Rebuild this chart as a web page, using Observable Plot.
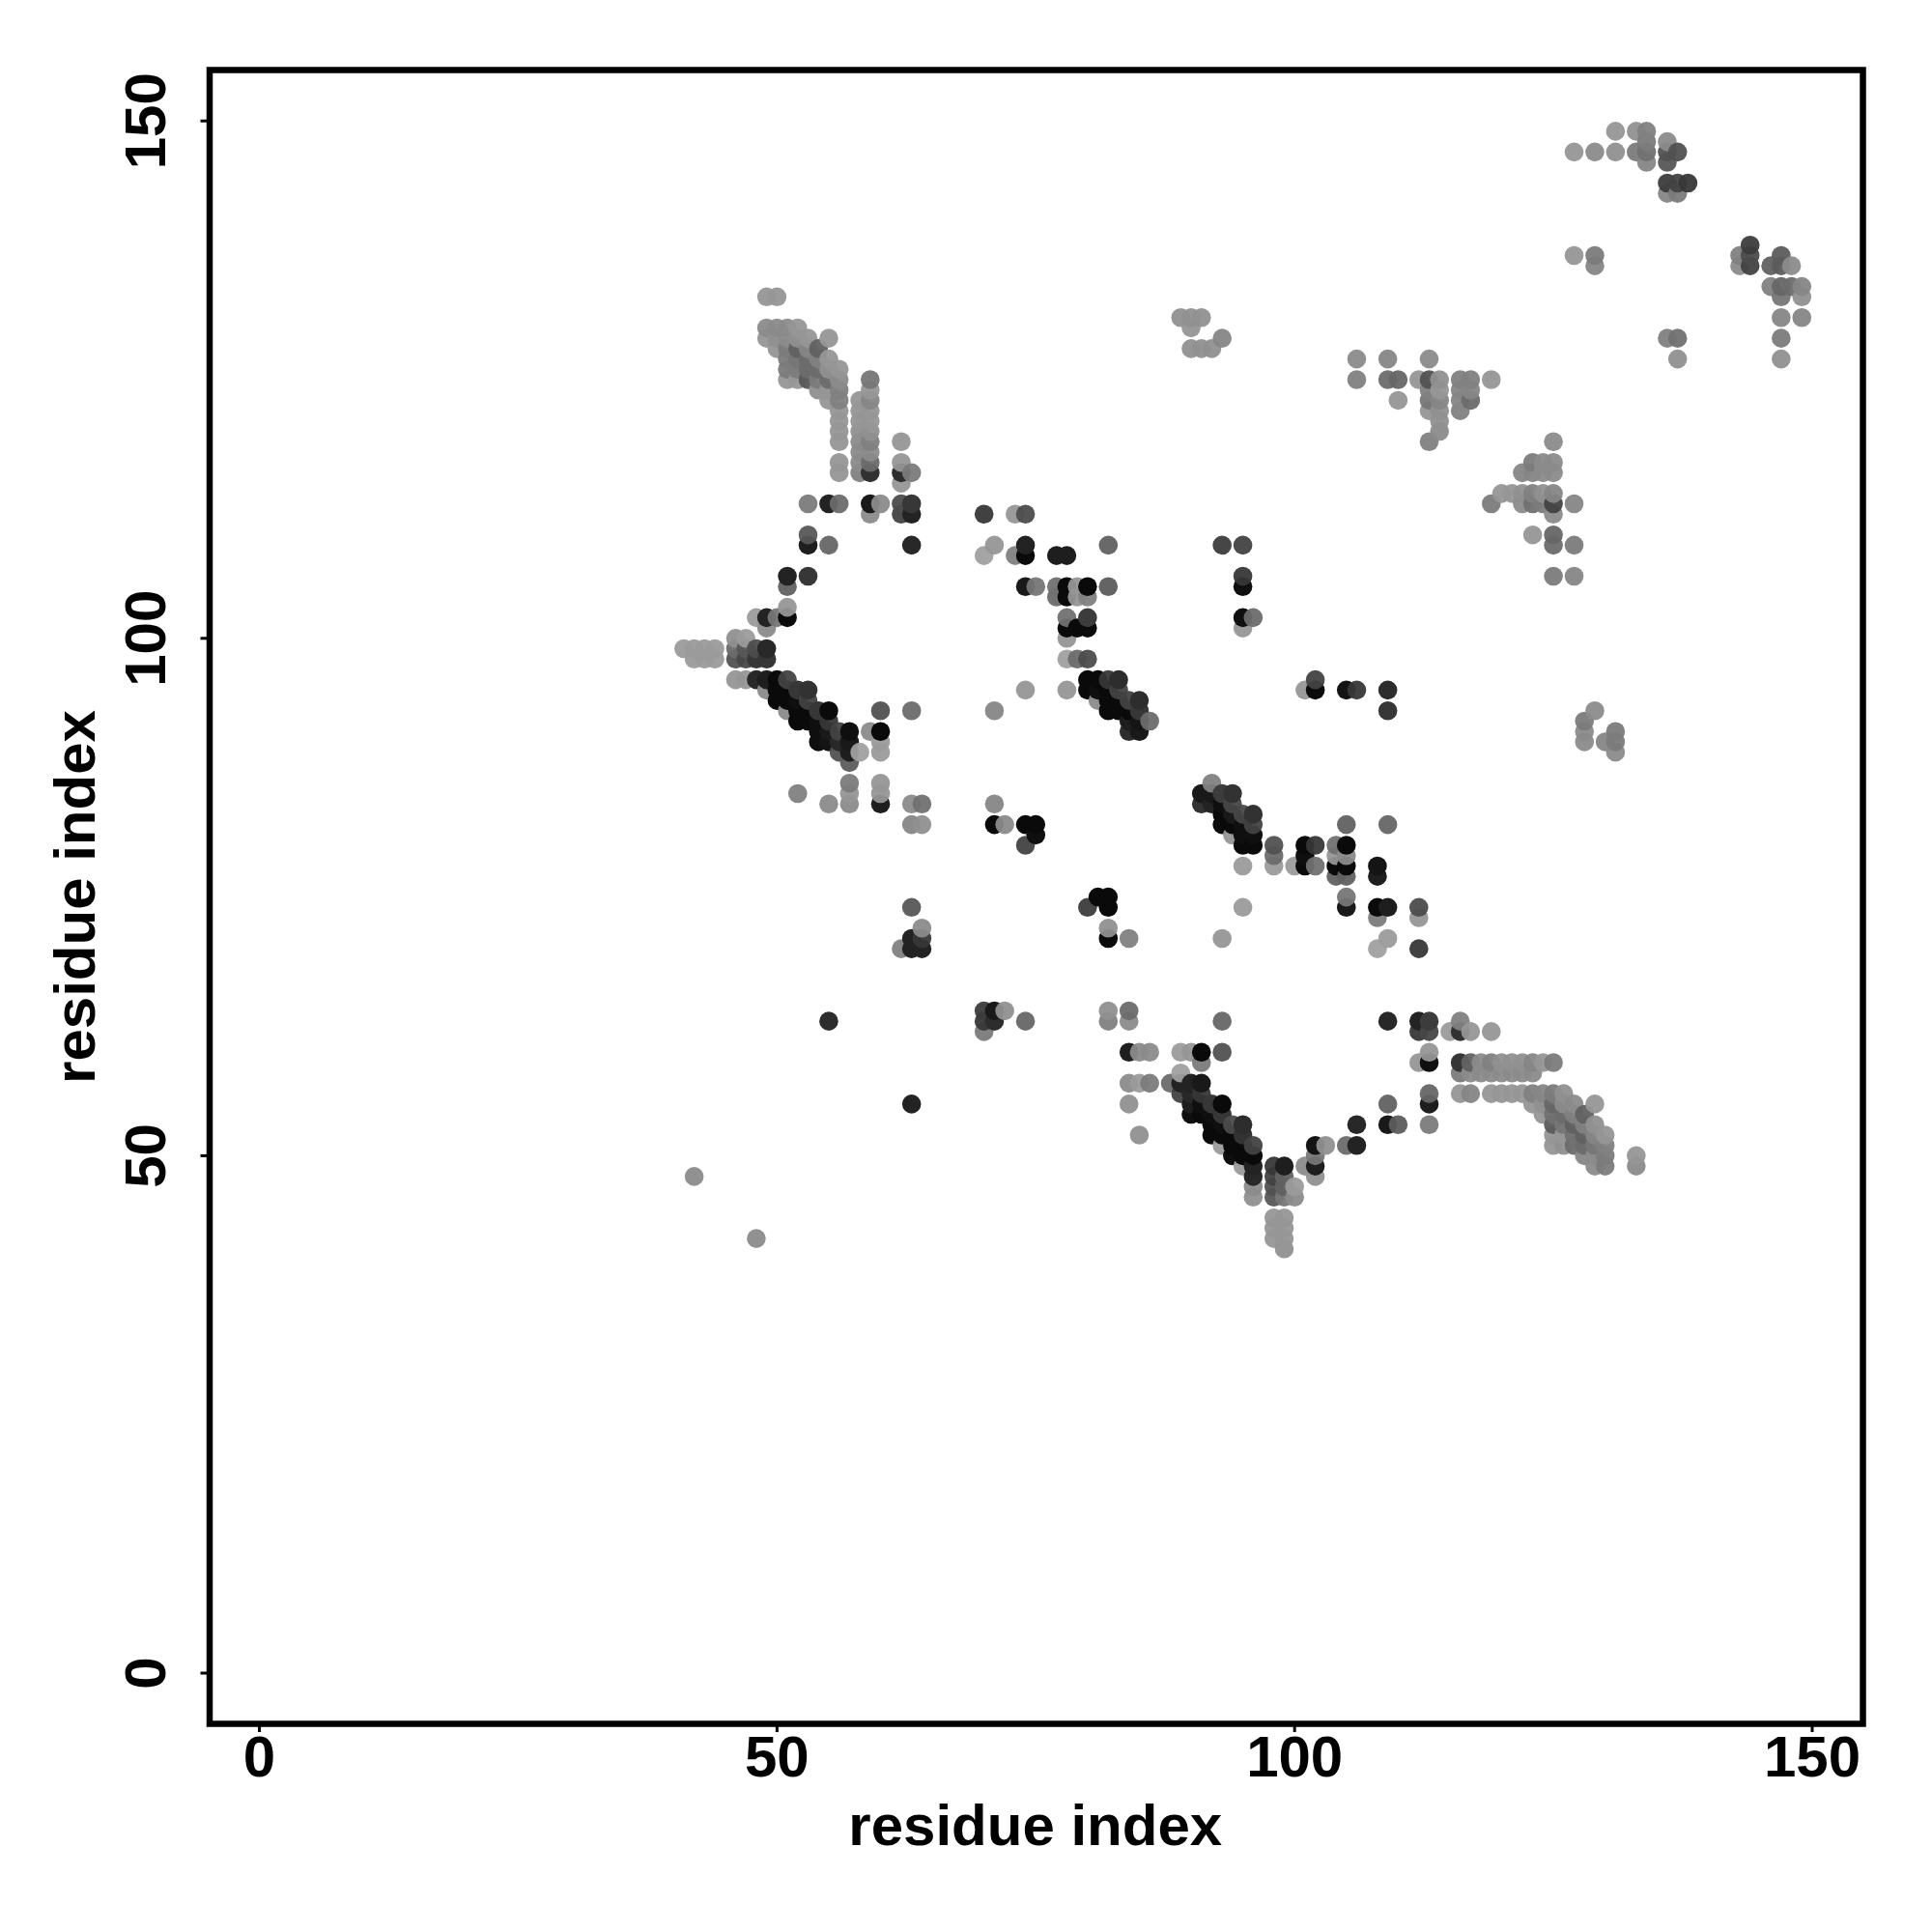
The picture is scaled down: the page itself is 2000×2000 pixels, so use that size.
<!DOCTYPE html>
<html><head><meta charset="utf-8">
<script src="https://cdn.jsdelivr.net/npm/d3@7"></script>
<script src="https://cdn.jsdelivr.net/npm/@observablehq/plot@0.6"></script>
<style>html,body{margin:0;padding:0;background:#fff}svg{display:block}</style>
</head><body><div id="chart"></div>
<script>
// [residue i, residue j, grey level]
const blockUpperLeft = [
[49,133,150],[50,133,150],
[49,130,140],[50,130,140],[51,130,140],[52,130,150],
[49,129,150],[50,129,145],[51,129,140],[52,129,145],[53,129,150],[55,129,150],
[50,128,150],[51,128,125],[52,128,100],[53,128,135],[54,128,100],
[51,127,125],[52,127,120],[53,127,110],[54,127,130],[55,127,150],
[51,126,125],[52,126,125],[53,126,110],[54,126,110],[55,126,145],[56,126,150],
[51,125,150],[52,125,150],[53,125,90],[54,125,125],[55,125,110],[56,125,140],[59,125,120],
[54,124,145],[55,124,150],[56,124,130],[59,124,150],
[55,123,150],[56,123,130],[58,123,150],[59,123,135],
[56,122,150],[58,122,150],[59,122,150],
[56,121,150],[58,121,150],[59,121,150],
[56,120,150],[58,120,145],[59,120,145],
[56,119,150],[58,119,140],[59,119,130],[62,119,150],
[58,118,140],[59,118,140],
[56,117,150],[58,117,140],[59,117,110],[62,117,150],
[56,116,150],[58,116,130],[59,116,45],[62,116,40],[63,116,125],
[62,115,150],
[53,113,125],[55,113,30],[56,113,110],[59,113,20],[60,113,140],[62,113,80],[63,113,50],
[59,112,140],[62,112,70],[63,112,30],
[53,110,90],[53,109,25],[55,109,105],[63,109,35]
];
const helixOne = [
[51,106,30],[53,106,50],[51,105,100],[51,103,150],
[48,102,155],[49,102,30],[50,102,120],[51,102,5],[49,101,140],
[46,100,145],[47,100,155],
[41,99,155],[42,99,155],[43,99,155],[44,99,155],[46,99,110],[47,99,90],[48,99,80],[49,99,35],
[42,98,155],[43,98,155],[44,98,155],[46,98,85],[47,98,75],[48,98,50],[49,98,50],
[46,96,150],[47,96,150],[48,96,35],[49,96,25],[50,96,5],[51,96,70],
[49,95,140],[50,95,5],[51,95,5],[52,95,50],[53,95,45],
[50,94,5],[51,94,5],[52,94,10],[53,94,70],
[51,93,140],[52,93,5],[53,93,5],[54,93,50],[55,93,5],[60,93,85],[63,93,110],
[52,92,5],[53,92,5],[54,92,10],[55,92,60],
[54,91,10],[55,91,20],[56,91,70],[57,91,10],[59,91,140],[60,91,5],
[54,90,10],[55,90,15],[56,90,35],[57,90,20],[60,90,155],
[56,89,85],[57,89,25],[58,89,160],[60,89,155],
[57,88,95],[57,86,125],[60,86,150],
[52,85,130],[57,85,150],[60,85,150],
[55,84,140],[57,84,140],[60,84,25],[63,84,140],[64,84,115],
[63,82,135],[64,82,145]
];
const lonePoints = [
[42,48,140],[48,42,140],[55,63,40],[63,55,30],
[63,74,90],[64,72,140],[62,70,130],[63,71,30],[63,70,30],[64,70,30],[64,71,60]
];
const helixTwo = [
[70,112,60],[73,112,150],[74,112,80],
[71,109,150],[74,109,30],[82,109,100],[93,109,65],[95,109,70],
[70,108,160],[73,108,130],[74,108,5],[77,108,25],[78,108,25],
[95,106,60],
[74,105,20],[75,105,120],[77,105,115],[78,105,5],[79,105,150],[80,105,5],[82,105,95],[95,105,10],
[77,104,110],[78,104,5],[79,104,150],[80,104,130],
[78,102,115],[80,102,55],[95,102,10],[96,102,110],
[78,101,5],[79,101,5],[80,101,5],[95,101,150],
[78,100,150],
[78,98,160],[79,98,110],[80,98,80],
[80,96,5],[81,96,5],[82,96,60],[83,96,40],
[74,95,150],[78,95,150],[80,95,5],[81,95,10],[82,95,5],[83,95,70],
[81,94,140],[82,94,5],[83,94,5],[84,94,70],[85,94,40],
[71,93,135],[82,93,5],[83,93,5],[84,93,5],[85,93,50],
[84,92,25],[85,92,15],[86,92,110],
[84,91,40],[85,91,20]
];
const helixThree = [
[92,86,130],
[91,85,20],[92,85,20],[93,85,55],[94,85,45],
[91,84,45],[92,84,30],[93,84,10],[94,84,75],
[93,83,5],[94,83,20],[95,83,75],[96,83,45],
[93,82,5],[94,82,5],[95,82,10],[96,82,70],[105,82,100],[109,82,105],
[94,81,150],[95,81,10],[96,81,10],
[95,80,5],[96,80,5],[98,80,85],[101,80,5],[102,80,60],[104,80,115],[105,80,5],
[98,79,110],[101,79,10],[104,79,150],[105,79,140],
[95,78,155],[98,78,155],[100,78,155],[101,78,5],[102,78,115],[104,78,5],[105,78,5],[108,78,15],
[104,77,100],[105,77,100],[108,77,25],
[105,75,120],[95,74,155],
[105,74,20],[108,74,5],[109,74,25],[112,74,80],
[108,73,125],[112,73,150],
[93,71,150],[109,71,155],[108,70,160],[112,70,60]
];
const midScatter = [
[71,84,135],[71,82,5],[72,82,140],[74,82,5],[75,82,5],[75,81,10],[74,80,70],
[81,75,5],[82,75,5],[80,74,65],[82,74,5],[82,72,145],[82,71,5],[84,71,130],
[70,64,65],[71,64,20],[72,64,145],[70,63,60],[71,63,40],[70,62,125],[74,63,105],
[82,64,145],[84,64,110],[82,63,130],[84,63,140],[93,63,105],
[109,95,40],[109,93,50],[102,96,70],[102,95,5],[101,95,150],[105,95,15],[106,95,60],
[129,93,140],[128,92,125],[128,91,140],[128,90,140],[130,90,135],[131,91,125],[131,90,125],[131,89,140]
];
const helixFour = [
[84,60,25],[85,60,140],[86,60,140],[89,60,155],[90,60,150],[91,60,5],[93,60,85],
[91,59,125],[89,58,160],
[84,57,140],[85,57,155],[86,57,125],[88,57,110],[89,57,30],[90,57,30],[91,57,20],
[89,56,70],[90,56,35],[91,56,60],
[84,55,145],[90,55,25],[91,55,10],[92,55,50],[93,55,5],
[90,54,10],[91,54,5],[92,54,10],[93,54,50],
[92,53,5],[93,53,10],[94,53,80],[95,53,40],
[85,52,145],[92,52,5],[93,52,5],[94,52,5],[95,52,45],
[93,51,155],[94,51,5],[95,51,5],[96,51,70],[102,51,15],[103,51,145],[105,51,110],[106,51,30],
[94,50,10],[95,50,5],[96,50,5],[102,50,120],
[95,49,155],[96,49,30],[98,49,60],[99,49,25],[101,49,140],[102,49,25],
[96,48,35],[98,48,70],[99,48,100],[102,48,145],
[96,47,140],[98,47,85],[99,47,100],[100,47,155],
[96,46,145],[98,46,90],[99,46,120],[100,46,140],
[98,44,150],[99,44,150],[98,43,150],[99,43,150],[98,42,150],[99,42,150],[99,41,145]
];
const blockLowerRight = [
[109,63,35],[112,63,30],[113,63,55],[116,63,130],
[112,62,60],[113,62,75],[115,62,155],[116,62,45],[117,62,150],[119,62,150],
[113,60,150],
[112,59,150],[113,59,10],[116,59,50],[117,59,100],[118,59,140],[119,59,130],[120,59,145],[121,59,145],[122,59,145],[123,59,135],[124,59,150],[125,59,125],
[116,58,125],[117,58,140],[118,58,140],[119,58,140],[120,58,140],[121,58,140],[122,58,140],[123,58,140],
[116,56,150],[117,56,135],[119,56,150],[120,56,150],[121,56,150],[122,56,150],[123,56,130],[124,56,135],[125,56,125],[126,56,145],[113,56,105],
[109,55,100],[113,55,25],[123,55,150],[124,55,145],[125,55,105],[126,55,140],[127,55,140],[129,55,150],
[124,54,150],[125,54,115],[126,54,110],[127,54,130],[128,54,100],
[106,53,35],[109,53,20],[110,53,95],[113,53,125],[125,53,95],[126,53,120],[127,53,100],[128,53,130],[129,53,145],
[125,52,150],[126,52,150],[127,52,115],[128,52,100],[129,52,135],[130,52,150],
[125,51,150],[126,51,145],[127,51,110],[128,51,110],[129,51,120],[130,51,130],
[128,50,135],[129,50,140],[130,50,125],[133,50,150],
[129,49,140],[130,49,125],[133,49,140]
];
const cornerTopRight = [
[131,149,150],[133,149,145],[134,149,130],
[134,148,125],[136,148,140],
[127,147,150],[129,147,140],[131,147,145],[133,147,125],[134,147,115],[136,147,85],[137,147,85],
[134,146,135],[136,146,90],
[136,144,65],[137,144,70],[138,144,60],
[136,143,135],[137,143,125],
[144,138,65],
[127,137,150],[129,137,125],[143,137,130],[144,137,80],[147,137,95],
[129,136,135],[143,136,140],[144,136,70],[146,136,100],[147,136,95],[148,136,140],
[146,134,130],[147,134,105],[148,134,110],[149,134,135],
[147,133,120],[149,133,145],
[147,131,135],[149,131,135],
[136,129,130],[137,129,115],[147,129,125],
[137,127,145],[147,127,145]
];
const blockUpperMiddle = [
[89,131,145],[90,131,145],[91,131,145],[90,130,150],
[93,129,135],[90,128,145],[91,128,145],[92,128,145],
[106,127,140],[109,127,135],[113,127,140],
[106,125,130],[109,125,110],[110,125,105],[112,125,150],[113,125,85],[114,125,145],[116,125,130],[117,125,130],[119,125,150],
[113,124,130],[114,124,150],[116,124,135],[117,124,135],
[110,123,150],[113,123,120],[114,123,135],[116,123,135],[117,123,110],
[113,122,150],[114,122,145],[116,122,130],
[114,121,145],[114,120,140],[113,119,130],
[125,119,140],
[123,117,125],[124,117,140],[125,117,140],
[122,116,135],[123,116,135],[124,116,140],[125,116,140],
[120,114,150],[121,114,150],[122,114,145],[123,114,130],[124,114,145],[125,114,135],
[119,113,125],[122,113,140],[123,113,115],[124,113,125],[125,113,70],[127,113,135],
[125,112,140],
[123,110,150],[125,110,105],[125,109,110],[127,109,125],
[125,106,125],[127,106,135]
];
const xTicks = [0, 50, 100, 150];
const yTicks = [0, 50, 100, 150];
const axisTitle = "residue index";

const contacts = d3.sort(
  [...blockUpperLeft, ...helixOne, ...lonePoints, ...helixTwo, ...helixThree,
   ...midScatter, ...helixFour, ...blockLowerRight, ...cornerTopRight, ...blockUpperMiddle],
  d => d[0], d => d[1]
);

const alpha = g => g < 60 ? 1 : 0.95;
const fillOf = d => {
  const a = alpha(d[2]);
  const c = Math.max(0, Math.round((d[2] + 5 - 255 * (1 - a)) / a));
  return `rgb(${c},${c},${c})`;
};

const chart = Plot.plot({
  width: 2000, height: 2000,
  marginLeft: 216.5, marginRight: 72, marginTop: 72, marginBottom: 216,
  style: {fontFamily: "Liberation Sans", background: "#fff", color: "#000"},
  x: {domain: [-4.81, 154.9]},
  y: {domain: [-4.9, 154.92]},
  opacity: {type: "identity"},
  marks: [
    Plot.dot(contacts, {x: d => d[0], y: d => d[1], r: 9.8, fill: fillOf, fillOpacity: d => alpha(d[2]), stroke: "none"}),
    Plot.frame({stroke: "#000", strokeWidth: 6.5}),
    Plot.axisX({ticks: xTicks, tickSize: 9, tickPadding: 3, strokeWidth: 3, fontSize: 60, fontWeight: "bold", label: null, tickFormat: d => d}),
    Plot.axisY({ticks: yTicks, tickSize: 9, tickPadding: 37, tickRotate: -90, strokeWidth: 3, fontSize: 60, fontWeight: "bold", label: null, tickFormat: d => d}),
    Plot.text([axisTitle], {frameAnchor: "bottom", dy: 125, dx: -1, fontSize: 60, fontWeight: "bold", lineAnchor: "bottom"}),
    Plot.text([axisTitle], {frameAnchor: "left", dx: -119, rotate: -90, fontSize: 60, fontWeight: "bold", lineAnchor: "bottom", textAnchor: "middle"})
  ]
});
document.getElementById("chart").appendChild(chart);
</script></body></html>
